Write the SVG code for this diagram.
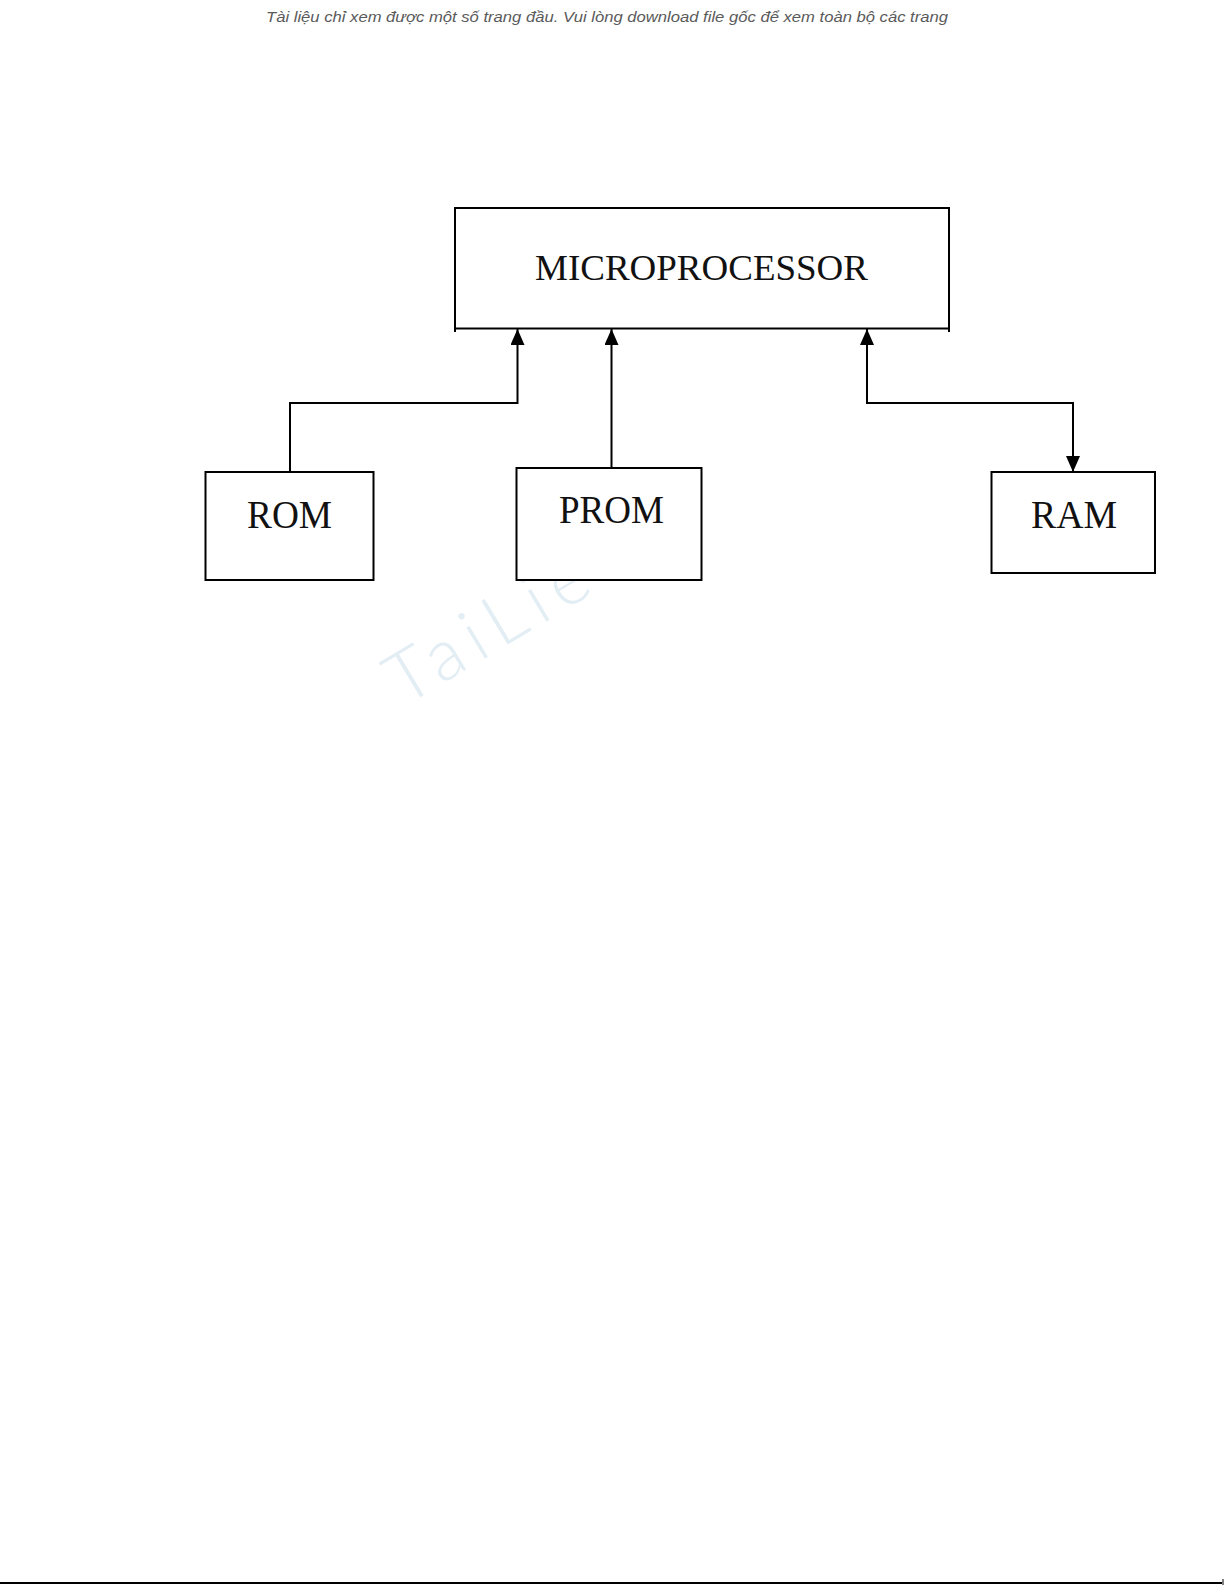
<svg xmlns="http://www.w3.org/2000/svg" width="1225" height="1585" viewBox="0 0 1225 1585">
<style>
.box{fill:#fff;stroke:#000;stroke-width:2}
.lbl{font-family:"Liberation Serif","Times New Roman",serif;fill:#111}
.wire{fill:none;stroke:#000;stroke-width:2}
.hdr{font-family:"Liberation Sans",Arial,sans-serif;font-style:italic;font-size:15px;fill:#5a5a5a}
</style>
<defs>
<marker id="ah" viewBox="0 0 16 14" refX="16" refY="7" markerWidth="16" markerHeight="14" markerUnits="userSpaceOnUse" orient="auto-start-reverse">
<path d="M0,0 L16,7 L0,14 Z" fill="#000"/>
</marker>
</defs>
<rect width="1225" height="1585" fill="#fff"/>
<text class="hdr" x="266" y="22" textLength="682" lengthAdjust="spacingAndGlyphs">Tài liệu chỉ xem được một số trang đầu. Vui lòng download file gốc để xem toàn bộ các trang</text>
<text x="404" y="707" transform="rotate(-31 404 707)" font-family="Lato, 'Liberation Sans', sans-serif" font-weight="300" font-size="72" letter-spacing="10" fill="#e2edf4">TaiLieu</text>
<g id="connectors">
<path class="wire" d="M290,472 V403 H517.5 V329" marker-end="url(#ah)"/>
<path class="wire" d="M611.5,468 V329" marker-end="url(#ah)"/>
<path class="wire" d="M867,329 V403 H1073 V472" marker-start="url(#ah)" marker-end="url(#ah)"/>
</g>
<g id="microprocessor">
<rect class="box" x="455" y="208" width="494" height="120.5"/>
<line x1="455" y1="328" x2="455" y2="332" stroke="#000" stroke-width="2"/>
<line x1="949" y1="328" x2="949" y2="332" stroke="#000" stroke-width="2"/>
<text class="lbl" x="535" y="280" font-size="36" textLength="333" lengthAdjust="spacingAndGlyphs">MICROPROCESSOR</text>
</g>
<g id="rom">
<rect class="box" x="205.5" y="472" width="168" height="108"/>
<text class="lbl" x="247" y="527.5" font-size="40" textLength="85" lengthAdjust="spacingAndGlyphs">ROM</text>
</g>
<g id="prom">
<rect class="box" x="516.5" y="468" width="185" height="112"/>
<text class="lbl" x="559" y="522.5" font-size="40" textLength="105" lengthAdjust="spacingAndGlyphs">PROM</text>
</g>
<g id="ram">
<rect class="box" x="991.5" y="472" width="163.5" height="101"/>
<text class="lbl" x="1031" y="527.5" font-size="40" textLength="86" lengthAdjust="spacingAndGlyphs">RAM</text>
</g>
<line x1="0" y1="1583" x2="1222" y2="1583" stroke="#000" stroke-width="2"/>
<line x1="1223" y1="1579" x2="1223" y2="1585" stroke="#000" stroke-width="1"/>
</svg>
